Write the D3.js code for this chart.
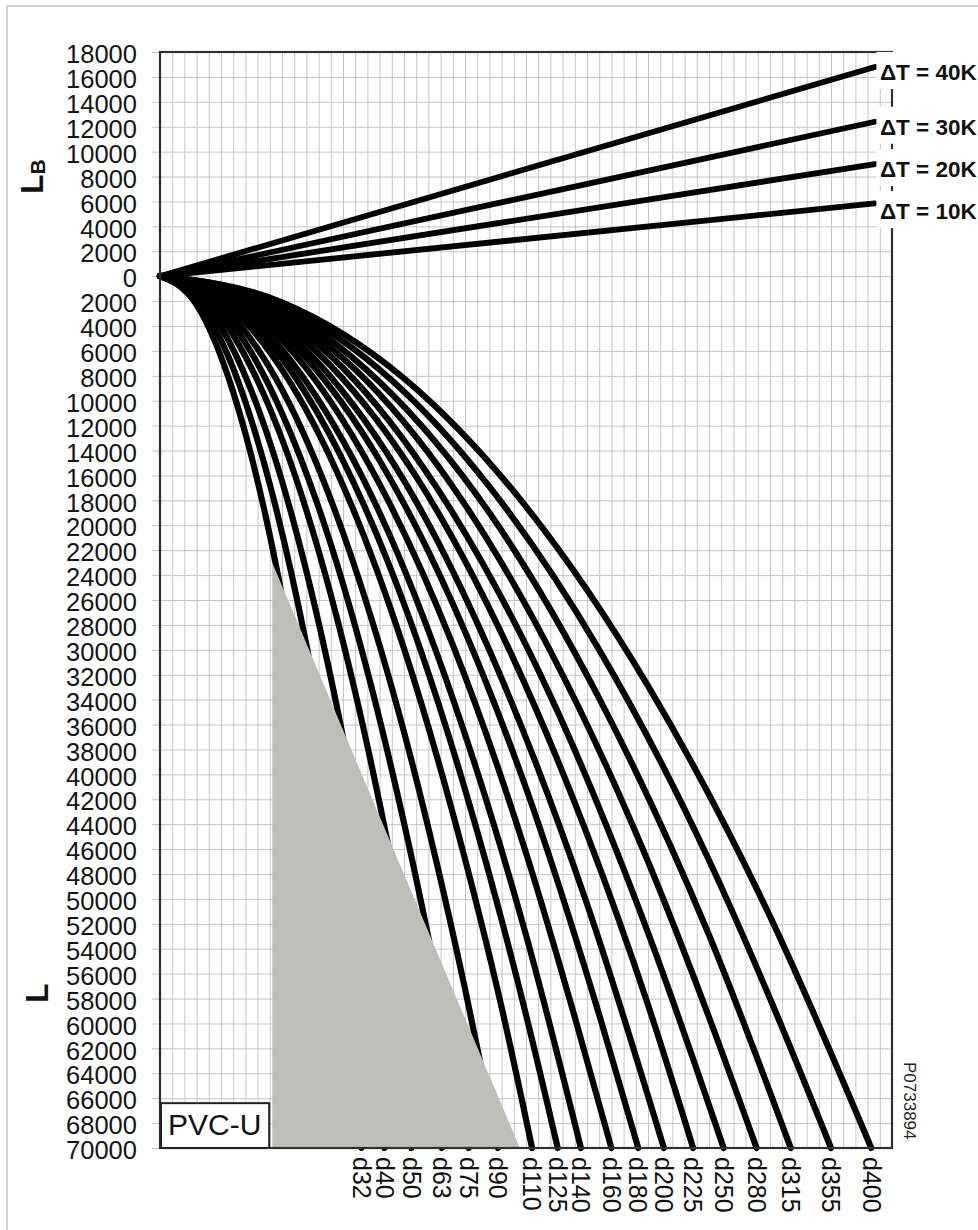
<!DOCTYPE html>
<html><head><meta charset="utf-8">
<script src="https://cdn.jsdelivr.net/npm/d3@7"></script>
<style>
html,body{margin:0;padding:0;background:#fff;}
svg text{font-family:"Liberation Sans",Arial,Helvetica,sans-serif;}
</style></head><body>
<svg id="chart" width="978" height="1230"></svg>
<script>
// ---------------- data ----------------
// tick labels (upper part L_B, lower part L)
const lbTicks = [0,2000,4000,6000,8000,10000,12000,14000,16000,18000];
const lTicks = [2000,4000,6000,8000,10000,12000,14000,16000,18000,20000,22000,24000,26000,28000,30000,
  32000,34000,36000,38000,40000,42000,44000,46000,48000,50000,52000,54000,56000,58000,60000,
  62000,64000,66000,68000,70000];

// upper straight lines: L_B reached at the right end of the lines
const deltaTLabels = ["ΔT = 40K","ΔT = 30K","ΔT = 20K","ΔT = 10K"];
const deltaTEndLB = [16800, 12400, 9000, 5850];
const deltaTEndX = 58.6;

// lower curves: [x (grid units), L]
const diameterLabels = ["d32","d40","d50","d63","d75","d90","d110","d125","d140","d160","d180","d200","d225","d250","d280","d315","d355","d400"];
const c_d32  = [[0,0],[3,2300],[6,9300],[9,20800],[12,37000],[14,50400],[16.5,70000]];
const c_d40  = [[0,0],[3,1850],[6,7400],[9,16700],[12,29600],[15,46300],[18.4,70000]];
const c_d50  = [[0,0],[4,2600],[8,10500],[12,23700],[16,42100],[18,53300],[20.6,70000]];
const c_d63  = [[0,0],[4,2100],[8,8400],[12,18800],[16,33400],[20,52300],[23.1,70000]];
const c_d75  = [[0,0],[5,2700],[10,11000],[15,24700],[20,43900],[23,58000],[25.3,70000]];
const c_d90  = [[0,0],[5,2300],[10,9100],[15,20600],[20,36600],[25,57200],[27.7,70000]];
const c_d110 = [[0,0],[5,1900],[10,7500],[15,16800],[20,29900],[25,46800],[28,58700],[30.5,70000]];
const c_d125 = [[0,0],[5,1600],[10,6600],[15,14800],[20,26300],[25,41200],[30,59300],[32.6,70000]];
const c_d140 = [[0,0],[6,2100],[12,8500],[18,19000],[24,33900],[30,52900],[34.5,70000]];
const c_d160 = [[0,0],[6,1850],[12,7400],[18,16700],[24,29600],[30,46300],[34,59500],[37.0,70000]];
const c_d180 = [[0,0],[6,1650],[12,6600],[18,14800],[24,26300],[30,41100],[36,59300],[39.2,70000]];
const c_d200 = [[0,0],[7,2000],[14,8100],[21,18100],[28,32300],[35,50400],[41.3,70000]];
const c_d225 = [[0,0],[7,1800],[14,7200],[21,16100],[28,28700],[35,44800],[40,58500],[43.7,70000]];
const c_d250 = [[0,0],[8,2100],[16,8400],[24,19000],[32,33700],[40,52700],[46.2,70000]];
const c_d280 = [[0,0],[8,1900],[16,7500],[24,16900],[32,30100],[40,47000],[45,59500],[48.9,70000]];
const c_d315 = [[0,0],[9,2100],[18,8500],[27,19000],[36,33900],[45,52900],[51.7,70000]];
const c_d355 = [[0,0],[9,1900],[18,7500],[27,16900],[36,30000],[45,46900],[50,58000],[55.0,70000]];
const c_d400 = [[0,0],[10,2100],[20,8200],[30,18500],[40,32900],[50,51400],[58.3,70000]];
const pipeCurves = [c_d32,c_d40,c_d50,c_d63,c_d75,c_d90,c_d110,c_d125,c_d140,c_d160,c_d180,c_d200,c_d225,c_d250,c_d280,c_d315,c_d355,c_d400];

// grey zone (x grid units, L)
const greyZone = [[9.2,23000],[9.2,70000],[29.5,70000]];
const materialLabel = "PVC-U";
const materialBox = [[0,66400],[8.95,70000]];
const drawingCode = "P0733894";

// ---------------- drawing ----------------
const W = 978, H = 1230;
const svg = d3.select("#chart");
const x = d3.scaleLinear().domain([0,60]).range([160,892]);
const y = d3.scaleLinear().domain([18000,-70000]).range([52,1148]);
const [pL,pR] = x.range(), [pT,pB] = y.range();

svg.append("rect").attr("width",W).attr("height",H).attr("fill","#fff");
svg.append("rect").attr("x",7).attr("y",6).attr("width",W).attr("height",H)
  .attr("fill","none").attr("stroke","#d2d2d2").attr("stroke-width",2);

// vertical grid
const gx = svg.append("g").attr("transform",`translate(0,${pB})`)
  .call(d3.axisBottom(x).tickValues(d3.range(0,61)).tickSize(-(pB-pT)).tickFormat(""));
gx.select(".domain").remove();
gx.selectAll("line").attr("stroke","#c6c6c6").attr("stroke-width",1);

// y axis + horizontal grid
const allTicks = lbTicks.concat(lTicks.map(v=>-v));
const gy = svg.append("g").attr("transform",`translate(${pL-8},0)`)
  .call(d3.axisLeft(y).tickValues(allTicks).tickSize(-(pR-pL+8)).tickPadding(15)
    .tickFormat(d=>String(Math.abs(d))));
gy.select(".domain").remove();
gy.selectAll("line").attr("stroke","#c6c6c6").attr("stroke-width",1);
gy.selectAll("text").attr("font-size",25.5).attr("fill","#151515").attr("dy","0.42em")
  .style("font-family","'Liberation Sans',Arial,sans-serif");

// curves
const curveGen = d3.line().x(d=>x(d[0])).y(d=>y(-d[1])).curve(d3.curveMonotoneX);
svg.append("g").selectAll("path").data(pipeCurves).join("path")
  .attr("d",curveGen).attr("fill","none").attr("stroke","#000")
  .attr("stroke-width",6.2).attr("stroke-linecap","round").attr("stroke-linejoin","round");

// upper lines
svg.append("g").selectAll("line").data(deltaTEndLB).join("line")
  .attr("x1",x(0)).attr("y1",y(0)).attr("x2",x(deltaTEndX)).attr("y2",d=>y(d))
  .attr("stroke","#000").attr("stroke-width",5.8).attr("stroke-linecap","round");

// grey zone
svg.append("path")
  .attr("d",d3.line().x(d=>x(d[0])).y(d=>y(-d[1]))(greyZone)+"Z")
  .attr("fill","#bcc0b9");

// plot border
svg.append("rect").attr("x",pL).attr("y",pT).attr("width",pR-pL).attr("height",pB-pT)
  .attr("fill","none").attr("stroke","#303030").attr("stroke-width",2.2);

// material box
const bx0 = x(materialBox[0][0])+1, bx1 = x(materialBox[1][0]);
const by0 = y(-materialBox[0][1]), by1 = y(-materialBox[1][1]);
svg.append("rect").attr("x",bx0).attr("y",by0).attr("width",bx1-bx0).attr("height",by1-by0)
  .attr("fill","#fff").attr("stroke","#222").attr("stroke-width",2);
svg.append("text").attr("x",bx0+7).attr("y",by1-13).attr("font-size",30).attr("fill","#111")
  .text(materialLabel);

// delta T labels with white boxes
let prev = -Infinity;
const labelBase = deltaTEndLB.map(v=>{ const b = Math.max(y(v)+13, prev+42); prev=b; return b; });
const lg = svg.append("g");
lg.selectAll("rect").data(labelBase).join("rect")
  .attr("x",x(deltaTEndX)+1.5).attr("y",d=>d-28).attr("width",W).attr("height",37).attr("fill","#fff");
lg.selectAll("text").data(deltaTLabels).join("text")
  .attr("x",x(deltaTEndX)+5).attr("y",(d,i)=>labelBase[i])
  .attr("font-size",22.5).attr("font-weight","bold").attr("fill","#111").text(d=>d);

// diameter labels at the curve ends
svg.append("g").selectAll("text").data(pipeCurves).join("text")
  .attr("transform",d=>`translate(${x(d[d.length-1][0])},${pB+9}) rotate(90)`)
  .attr("dy","0.35em").attr("font-size",25).attr("fill","#111")
  .text((d,i)=>diameterLabels[i]);

// drawing code
svg.append("text").attr("transform",`translate(${pR+12},${pB-86}) rotate(90)`)
  .attr("font-size",17).attr("fill","#222").text(drawingCode);

// axis titles
const t1 = svg.append("text").attr("transform",`translate(43,194) rotate(-90)`)
  .attr("font-size",32).attr("font-weight","bold").attr("fill","#111");
t1.append("tspan").text("L");
t1.append("tspan").attr("font-size",21).attr("dy",2).text("B");
svg.append("text").attr("transform",`translate(48,1003) rotate(-90)`)
  .attr("font-size",32).attr("font-weight","bold").attr("fill","#111").text("L");
</script>
</body></html>
